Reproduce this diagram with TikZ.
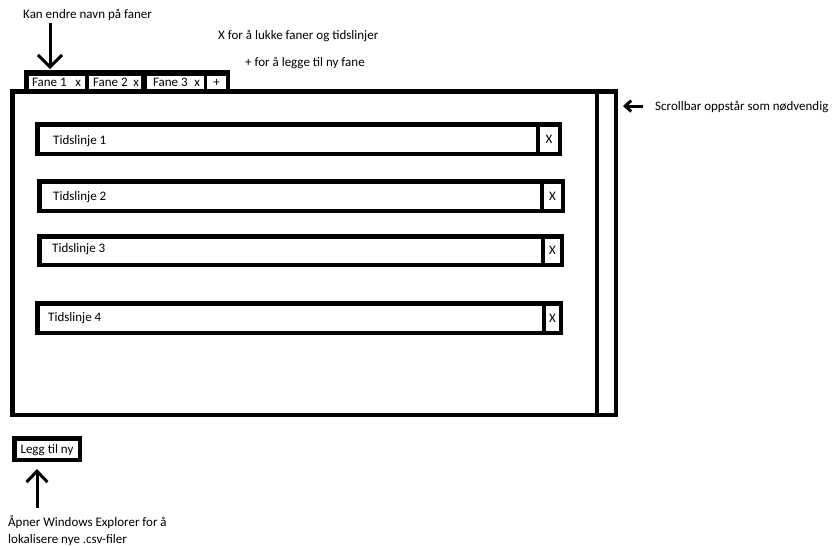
\documentclass[tikz,border=0pt]{standalone}
\usepackage{fontspec}
\setmainfont{Carlito}
\usetikzlibrary{arrows.meta}
\tikzset{
  txt/.style={font=\fontsize{13}{16}\selectfont, inner sep=0pt, text height=8.5pt, text depth=0pt},
  framebox/.style={draw=black, line width=4.5pt, inner sep=0pt, outer sep=0pt},
  barbox/.style={draw=black, line width=4.5pt, fill=white, inner sep=0pt, outer sep=0pt, txt},
  tabbox/.style={fill=white, inner sep=0pt, outer sep=0pt, txt, anchor=north west, minimum height=13pt},
  bigarrow/.style={line width=3pt, -{Straight Barb[length=12pt,width=24pt]}},
  smallarrow/.style={line width=3pt, -{Straight Barb[length=6pt,width=11pt]}},
}
% name, x1, y1, xdiv, x2, y2, label, textx, texty
\newcommand\tlbar[9]{%
  \node[barbox, minimum width={(#4-#2)*1pt}, minimum height={(#6-#3)*1pt}] (#1) at ({(#2+#4)/2},{(#3+#6)/2}) {};
  \node[barbox, minimum width={(#5-#4)*1pt}, minimum height={(#6-#3)*1pt}] (#1x) at ({(#4+#5)/2},{(#3+#6)/2}) {X};
  \node[txt, anchor=west] (#1t) at (#8,#9) {#7};
}
\begin{document}
\begin{tikzpicture}[x=1pt, y=-1pt]
  \useasboundingbox (0,0) rectangle (835,546);

  % tab bar
  \node[fill=black, inner sep=0pt, outer sep=0pt, minimum width=206pt, minimum height=21pt, anchor=north west] (tabbar) at (24,70) {};
  % main frame and scrollbar column
  \node[framebox, minimum width=603.5pt, minimum height=323.5pt, anchor=north west] (main) at (12.25,91.25) {};
  \node[framebox, minimum width=18.75pt, minimum height=323.5pt, anchor=north east] (scroll) at (main.north east) {};

  % tabs
  \node[tabbox] (tab1) at (29,76) {\makebox[56pt][l]{\hspace{3pt}Fane 1\hfill x\hspace{4pt}}};
  \node[tabbox] (tab2) at (89,76) {\makebox[52pt][l]{\hspace{4pt}Fane 2\hfill x\hspace{2pt}}};
  \node[tabbox] (tab3) at (147,76) {\makebox[57pt][l]{\hspace{6pt}Fane 3\hfill x\hspace{4pt}}};
  \node[tabbox] (tabplus) at (207,76) {\makebox[19pt][c]{+}};

  % timelines
  \tlbar{bar1}{37.25}{124.25}{538}{559.75}{153.75}{Tidslinje 1}{53}{140}
  \tlbar{bar2}{39.25}{181.25}{542}{562.75}{210.75}{Tidslinje 2}{53}{196}
  \tlbar{bar3}{39.25}{236.25}{543}{561.75}{264.75}{Tidslinje 3}{52}{248}
  \tlbar{bar4}{37.25}{303.25}{544}{560.75}{332.75}{Tidslinje 4}{48}{317}

  % add-new button
  \node[barbox, minimum width=65.5pt, minimum height=21.5pt, anchor=north west] (add) at (14.25,438.25) {Legg til ny};

  % annotations
  \node[txt, anchor=west] (lrename) at (23,14) {Kan endre navn på faner};
  \node[txt, anchor=west] (lclose) at (218,35) {X for å lukke faner og tidslinjer};
  \node[txt, anchor=west] (lplus) at (245,62) {+ for å legge til ny fane};
  \node[txt, anchor=west] (lscroll) at (655,106) {Scrollbar oppstår som nødvendig};
  \node[txt, anchor=west] (lopen1) at (8,522) {Åpner Windows Explorer for å};
  \node[txt, anchor=west] (lopen2) at (8,539) {lokalisere nye .csv-filer};

  % arrows
  \coordinate (a1s) at (50,23);
  \coordinate (a1e) at (50,69);
  \draw[bigarrow] (a1s) -- (a1e);
  \coordinate (a2s) at (643,106);
  \coordinate (a2e) at (623,106);
  \draw[smallarrow] (a2s) -- (a2e);
  \coordinate (a3s) at (37,508);
  \coordinate (a3e) at (37,469);
  \draw[line width=3pt, -{Straight Barb[length=11pt,width=21pt]}] (a3s) -- (a3e);
\end{tikzpicture}
\end{document}
